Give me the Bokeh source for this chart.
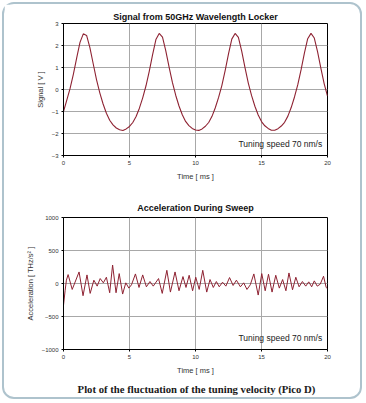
from bokeh.plotting import figure
from bokeh.models import Range1d, Label, Div, FixedTicker
from bokeh.layouts import column
from bokeh.embed import file_html
from bokeh.resources import INLINE

# ---- data ----
sig_t = [i * 0.25 for i in range(81)]
sig_v = [-1.00, -0.48, 0.05, 0.70, 1.44, 2.14, 2.53, 2.46, 1.90, 1.17,
         0.45, -0.15, -0.66, -1.08, -1.40, -1.61, -1.75, -1.83, -1.86, -1.79,
         -1.68, -1.50, -1.23, -0.85, -0.38, 0.17, 0.84, 1.59, 2.27, 2.55,
         2.38, 1.76, 1.02, 0.32, -0.26, -0.75, -1.15, -1.45, -1.64, -1.77,
         -1.84, -1.86, -1.79, -1.67, -1.50, -1.22, -0.83, -0.36, 0.19, 0.87,
         1.62, 2.29, 2.55, 2.37, 1.74, 0.99, 0.29, -0.28, -0.76, -1.16,
         -1.46, -1.65, -1.77, -1.85, -1.85, -1.78, -1.66, -1.49, -1.21, -0.82,
         -0.34, 0.22, 0.90, 1.65, 2.31, 2.55, 2.34, 1.71, 0.96, 0.26,
         -0.30]

acc_t = [0.00, 0.12, 0.22, 0.35, 0.66, 1.18, 1.48, 1.78, 2.02, 2.30,
         2.55, 2.78, 3.02, 3.25, 3.50, 3.72, 3.98, 4.22, 4.48, 4.72,
         4.95, 5.15, 5.45, 5.72, 6.00, 6.28, 6.55, 6.80, 7.20, 7.48,
         7.83, 8.10, 8.45, 8.75, 9.05, 9.28, 9.52, 9.78, 10.02, 10.28,
         10.55, 10.85, 11.10, 11.35, 11.58, 11.80, 12.05, 12.30, 12.58, 12.85,
         13.10, 13.40, 13.65, 13.90, 14.15, 14.42, 14.75, 15.02, 15.28, 15.53,
         15.80, 16.08, 16.35, 16.60, 16.85, 17.08, 17.35, 17.60, 17.85, 18.10,
         18.35, 18.58, 18.80, 19.00, 19.22, 19.45, 19.70, 19.90, 20.00]
acc_v = [-330, -110, 50, 135, -90, 175, -185, 130, -150, 50,
         -40, 75, 10, 95, -140, 280, -140, 150, -160, 10,
         -70, -20, 145, -60, 130, -50, 30, -40, 75, -150,
         200, -130, 175, -110, 105, -60, 125, -110, 95, -90,
         200, -130, 60, -60, 30, -50, 20, -40, 90, -30,
         50, -50, 10, -90, -20, 145, -175, 150, -110, 140,
         -130, 125, -70, 60, -110, 160, -95, 95, -50, 30,
         -40, 25, -50, 40, -40, -10, 110, -60, -80]

x_ticks = [0, 5, 10, 15, 20]
sig_ticks = [-3, -2, -1, 0, 1, 2, 3]
acc_ticks = [-1000, -500, 0, 500, 1000]

title1 = "Signal from 50GHz Wavelength Locker"
title2 = "Acceleration During Sweep"
ylab1 = "Signal [ V ]"
ylab2 = "Acceleration [ THz/s\u00b2 ]"
xlab = "Time [ ms ]"
note = "Tuning speed 70 nm/s"
caption = "Plot of the fluctuation of the tuning velocity (Pico D)"

FONT = "Liberation Sans"
LINE = "#8e2232"


def style(p, yticks):
    p.title.text_font = FONT
    p.title.text_font_size = "9px"
    p.title.text_font_style = "bold"
    p.title.align = "center"
    p.title.text_color = "#111111"
    p.title.standoff = 3
    p.outline_line_color = "black"
    p.outline_line_width = 1
    p.xaxis.ticker = FixedTicker(ticks=x_ticks)
    p.yaxis.ticker = FixedTicker(ticks=yticks)
    for ax in (p.xaxis, p.yaxis):
        ax.axis_line_color = "black"
        ax.major_tick_line_color = "black"
        ax.major_tick_out = 2
        ax.major_tick_in = 0
        ax.minor_tick_line_color = None
        ax.major_label_text_font = FONT
        ax.major_label_text_font_size = "6px"
        ax.major_label_text_color = "#333333"
        ax.major_label_standoff = 3
        ax.axis_label_text_font = FONT
        ax.axis_label_text_font_size = "7.5px"
        ax.axis_label_text_font_style = "normal"
        ax.axis_label_text_color = "#333333"
        ax.axis_label_standoff = 4
    p.xgrid.ticker = FixedTicker(ticks=x_ticks)
    p.ygrid.ticker = FixedTicker(ticks=yticks)
    p.grid.grid_line_color = "#a8a8a8"
    p.grid.grid_line_width = 1
    p.background_fill_color = "white"
    p.border_fill_color = "white"


p1 = figure(width=346, height=185, output_backend="svg", toolbar_location=None,
            x_range=Range1d(0, 20), y_range=Range1d(-3, 3), title=title1,
            min_border_left=59, min_border_right=23, min_border_top=19,
            min_border_bottom=34)
style(p1, sig_ticks)
p1.xaxis.axis_label = xlab
p1.yaxis.axis_label = ylab1
p1.line(sig_t, sig_v, line_color=LINE, line_width=1.1)
p1.add_layout(Label(x=19.6, y=-2.48, text=note, text_align="right",
                    text_baseline="middle", text_font=FONT,
                    text_font_size="8.5px", text_color="#222222"))

p2 = figure(width=346, height=188, output_backend="svg", toolbar_location=None,
            x_range=Range1d(0, 20), y_range=Range1d(-1000, 1000), title=title2,
            min_border_left=59, min_border_right=23, min_border_top=28,
            min_border_bottom=28)
style(p2, acc_ticks)
p2.title.standoff = 10
p2.xaxis.axis_label = xlab
p2.yaxis.axis_label = ylab2
p2.line(acc_t, acc_v, line_color=LINE, line_width=1.0, line_join="round")
p2.add_layout(Label(x=19.6, y=-820, text=note, text_align="right",
                    text_baseline="middle", text_font=FONT,
                    text_font_size="8.5px", text_color="#222222"))

cap = Div(text=caption, width=346, height=10,
          styles={"font-family": "Liberation Serif", "font-size": "10.7px",
                  "font-weight": "bold", "text-align": "center",
                  "color": "#1a1a1a", "line-height": "12px",
                  "padding-top": "1px", "padding-left": "29px",
                  "box-sizing": "border-box", "width": "346px",
                  "overflow": "visible"})

layout = column(p1, p2, cap, spacing=0,
                styles={"border": "2px solid #aec3cd", "border-radius": "12px",
                        "background-color": "white", "margin-left": "2px",
                        "margin-top": "2px"})

open("out.html", "w").write(file_html(layout, INLINE))
